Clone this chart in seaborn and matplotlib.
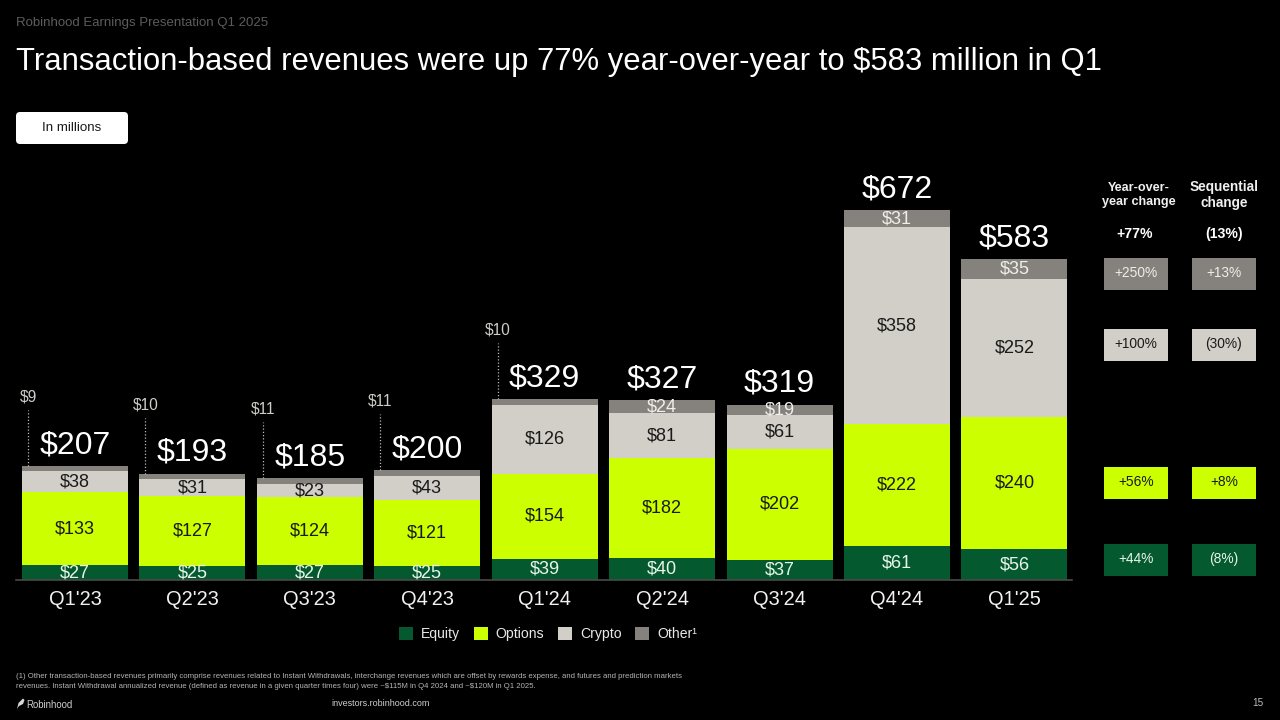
import matplotlib

matplotlib.use("Agg")

import matplotlib.pyplot as plt
import seaborn as sns
from matplotlib.patches import FancyBboxPatch, Polygon, Rectangle

QUARTERS = ["Q1'23", "Q2'23", "Q3'23", "Q4'23", "Q1'24", "Q2'24", "Q3'24", "Q4'24", "Q1'25"]
EQUITY = [27, 25, 27, 25, 39, 40, 37, 61, 56]
OPTIONS = [133, 127, 124, 121, 154, 182, 202, 222, 240]
CRYPTO = [38, 31, 23, 43, 126, 81, 61, 358, 252]
OTHER = [9, 10, 11, 11, 10, 24, 19, 31, 35]
TOTALS = [207, 193, 185, 200, 329, 327, 319, 672, 583]

YOY_CHANGE = ["+250%", "+100%", "+56%", "+44%"]
SEQ_CHANGE = ["+13%", "(30%)", "+8%", "(8%)"]

GREEN = "#05592F"
LIME = "#CCFF00"
STONE = "#D2CFC8"
GRAY = "#85817C"
DARK = "#1A1A1A"
PX = 0.72  # px to pt at dpi 100
PX_PER_UNIT = 0.55

sns.set_theme(style="dark", rc={"figure.facecolor": "black", "axes.facecolor": "black"})
plt.rcParams["font.family"] = ["Liberation Sans", "DejaVu Sans"]

fig = plt.figure(figsize=(12.8, 7.2), dpi=100)

# main chart: baseline at y=580px
ax = fig.add_axes([16 / 1280, (720 - 580) / 720, (1072 - 16) / 1280, 420 / 720])

series = [
    ("Equity", EQUITY, GREEN, "#E8F5EC"),
    ("Options", OPTIONS, LIME, DARK),
    ("Crypto", CRYPTO, STONE, DARK),
    ("Other¹", OTHER, GRAY, "#F0EEEA"),
]

bottom = [0] * len(QUARTERS)
for name, values, color, text_color in series:
    sns.barplot(x=QUARTERS, y=values, bottom=bottom, color=color, width=0.903,
                saturation=1, label=name, ax=ax, linewidth=0, legend=False)
    container = ax.containers[-1]
    # the thin "other" bars get their label outside the stack
    labels = [f"${v}" if (name != "Other¹" or v > 15) else "" for v in values]
    ax.bar_label(container, labels=labels, label_type="center", color=text_color,
                 fontsize=18 * PX)
    bottom = [b + v for b, v in zip(bottom, values)]

for i, (total, top) in enumerate(zip(TOTALS, bottom)):
    ax.annotate(f"${total}", (i, total), xytext=(0, 21 * PX), textcoords="offset points",
                ha="center", va="center", color="white", fontsize=32 * PX)

# dotted leader lines for the small "other" values
for i in range(5):
    x = i - 0.40
    top = bottom[i] + 56 / PX_PER_UNIT
    ax.plot([x, x], [bottom[i], top], color="#BDBBB6", lw=0.9, ls=(0, (1, 1.6)))
    ax.annotate(f"${OTHER[i]}", (x, top), xytext=(0, 13 * PX), textcoords="offset points",
                ha="center", va="center", color="#CFCDC8", fontsize=15.5 * PX)

ax.set_xlim(-0.5026, 8.49)
ax.set_ylim(0, 420 / PX_PER_UNIT)
ax.set_ylabel("")
ax.set_yticks([])
ax.grid(False)
ax.tick_params(axis="x", length=0, pad=7.5, labelsize=20 * PX, labelcolor="#F2F2F2")
for side in ["top", "left", "right"]:
    ax.spines[side].set_visible(False)
ax.spines["bottom"].set_color("#4A4A4A")
ax.spines["bottom"].set_linewidth(1.2)
ax.patch.set_alpha(0)

handles, labels = ax.get_legend_handles_labels()
legend = fig.legend(handles, labels, loc="center", bbox_to_anchor=(548 / 1280, (720 - 634) / 720),
                    ncol=4, frameon=False, fontsize=14 * PX, labelcolor="#E8E8E8",
                    handlelength=1.0, handleheight=1.0, handletextpad=0.55, columnspacing=1.0)

# overlay in pixel coordinates for the slide furniture
ov = fig.add_axes([0, 0, 1, 1], zorder=-1)
ov.set_xlim(0, 1280)
ov.set_ylim(720, 0)
ov.axis("off")

ov.text(16, 23, "Robinhood Earnings Presentation Q1 2025", color="#5C5C5C",
        fontsize=13.3 * PX, va="center")
ov.text(16, 62, "Transaction-based revenues were up 77% year-over-year to \\$583 million in Q1",
        color="white", fontsize=31 * PX, va="center")
ov.add_patch(FancyBboxPatch((19, 115), 106, 26, boxstyle="round,pad=3,rounding_size=4",
                            fc="white", ec="none"))
ov.text(72, 128, "In millions", color=DARK, fontsize=13.4 * PX, ha="center", va="center")

# change columns on the right
ov.text(1138.5, 195, "Year-over-\nyear change", color="#F0F0F0", fontsize=12.6 * PX,
        fontweight="bold", ha="center", va="center", linespacing=1.3)
ov.text(1224, 195, "Sequential\nchange", color="#F0F0F0", fontsize=13.6 * PX,
        fontweight="bold", ha="center", va="center", linespacing=1.2)
ov.text(1135, 234, "+77%", color="white", fontsize=14 * PX, fontweight="bold",
        ha="center", va="center")
ov.text(1224, 234, "(13%)", color="white", fontsize=14 * PX, fontweight="bold",
        ha="center", va="center")

rows = [(258, GRAY, "#F0EEEA"), (329, STONE, DARK), (467, LIME, DARK), (544, GREEN, "#E8F5EC")]
for (y, color, text_color), yoy, seq in zip(rows, YOY_CHANGE, SEQ_CHANGE):
    for x, text in [(1104, yoy), (1192, seq)]:
        ov.add_patch(Rectangle((x, y), 64, 32, fc=color, ec="none"))
        ov.text(x + 32, y + 15, text, color=text_color, fontsize=13.7 * PX,
                ha="center", va="center")

# footer
ov.text(16, 677, "(1) Other transaction-based revenues primarily comprise revenues related to "
        "Instant Withdrawals, interchange revenues which are offset by rewards expense, and "
        "futures and prediction markets", color="#B5B5B5", fontsize=7.75 * PX, va="center")
ov.text(16, 686, "revenues. Instant Withdrawal annualized revenue (defined as revenue in a "
        "given quarter times four) were ~\\$115M in Q4 2024 and ~\\$120M in Q1 2025.",
        color="#B5B5B5", fontsize=7.75 * PX, va="center")
ov.add_patch(Polygon([(17, 709), (18.5, 703), (23, 698.5), (24.5, 700), (23, 704), (19, 706)],
                     fc="#D8D8D8", ec="none"))
ov.text(26, 704.5, "Robinhood", color="#CFCFCF", fontsize=9.7 * PX, va="center")
ov.text(381, 704, "investors.robinhood.com", color="#CFCFCF", fontsize=9 * PX,
        ha="center", va="center")
ov.text(1264, 702.5, "15", color="#BDBDBD", fontsize=10 * PX, ha="right", va="center")

fig.savefig("out.png", dpi=100, facecolor="black")
